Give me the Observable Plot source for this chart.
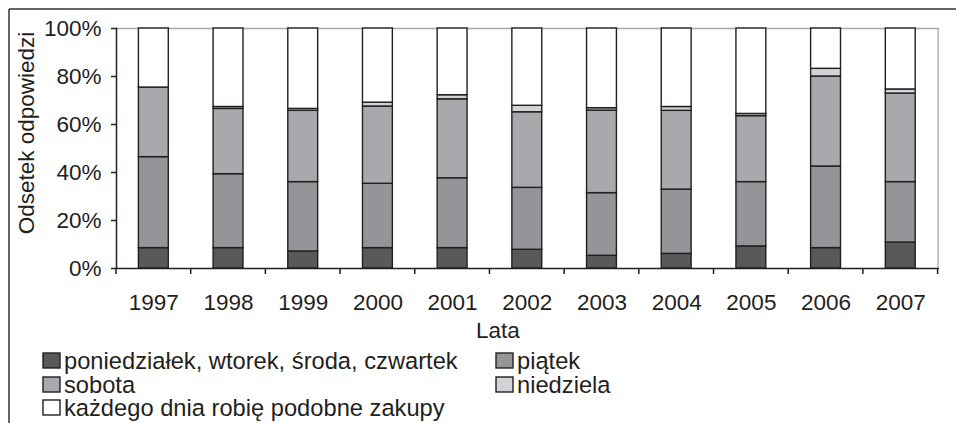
<!DOCTYPE html>
<html><head><meta charset="utf-8">
<script src="https://cdn.jsdelivr.net/npm/d3@7"></script>
<script src="https://cdn.jsdelivr.net/npm/@observablehq/plot@0.6"></script>
<style>body{margin:0;background:#fff} svg{display:block}</style>
</head><body><div id="chart"></div>
<script>
const years = ["1997","1998","1999","2000","2001","2002","2003","2004","2005","2006","2007"];
const categories = ["poniedziałek, wtorek, środa, czwartek","piątek","sobota","niedziela","każdego dnia robię podobne zakupy"];
const monThu   = [8.5, 8.5, 7.1, 8.5, 8.5, 7.8, 5.3, 6.1, 9.2, 8.5, 10.8];
const friday   = [37.9,30.8,28.9,26.8,29.1,25.8,26.1,26.8,26.8,34.0,25.2];
const saturday = [29.0,27.2,29.7,32.2,32.9,31.5,34.4,32.8,27.5,37.5,36.9];
const sunday   = [0.0, 0.8, 0.8, 1.6, 1.7, 2.7, 1.0, 1.6, 0.9, 3.2, 1.7];
const everyDay = [24.6,32.7,33.5,30.9,27.8,32.2,33.2,32.7,35.6,16.8,25.4];
const yTicks = [0,20,40,60,80,100];
const colors = ["#58595b","#939598","#a7a9ac","#d1d3d4","#ffffff"];
const xTitle = "Lata";
const yTitle = "Odsetek odpowiedzi";

const series = [monThu, friday, saturday, sunday, everyDay];
const data = [];
years.forEach((yr, i) => categories.forEach((c, k) => data.push({year: yr, category: c, value: series[k][i]})));

const ink = "#231f20";
const font = "'Liberation Sans', Arial, sans-serif";
const fs = 22.5;
const legFs = 23.7;

const plot = Plot.plot({
  width: 956, height: 423,
  marginLeft: 116, marginRight: 18.4, marginTop: 28, marginBottom: 155,
  style: {fontFamily: font, fontSize: fs + "px", color: ink, background: "#fff"},
  x: {domain: years, paddingInner: 0.6, paddingOuter: 0.3, round: false, label: null},
  y: {domain: [0, 100], label: null},
  color: {domain: categories, range: colors},
  marks: [
    Plot.frame({anchor: "top", stroke: "#a7a9ac", strokeWidth: 1.3}),
    Plot.frame({anchor: "right", stroke: "#a7a9ac", strokeWidth: 1.3}),
    Plot.barY(data, {x: "year", y: "value", fill: "category", stroke: ink, strokeWidth: 1.4}),
    Plot.frame({anchor: "left", stroke: ink, strokeWidth: 1.5}),
    Plot.frame({anchor: "bottom", stroke: ink, strokeWidth: 1.5}),
    Plot.axisY({ticks: yTicks, tickFormat: d => d + "%", tickSize: 5, tickPadding: 10, stroke: ink, strokeWidth: 1.5, label: null, fill: ink}),
    Plot.axisX({tickSize: 0, tickPadding: 26, label: null, fill: ink})
  ]
});
document.getElementById("chart").appendChild(plot);

const svg = d3.select(plot);
const xs = plot.scale("x");
const ys = plot.scale("y");
const [r0, r1] = xs.range;
const step = (r1 - r0) / years.length;
const y0 = ys.apply(0);
for (let i = 0; i <= years.length; i++) {
  const xx = r0 + i * step;
  svg.append("line").attr("x1", xx).attr("x2", xx).attr("y1", y0).attr("y2", y0 + 6)
    .attr("stroke", ink).attr("stroke-width", 1.5);
}
// axis titles
svg.append("text").attr("x", 498).attr("y", 338).attr("text-anchor", "middle")
  .attr("fill", ink).style("font-family", font).style("font-size", fs + "px").text(xTitle);
svg.append("text").attr("transform", "translate(34,133) rotate(-90)").attr("text-anchor", "middle")
  .attr("fill", ink).style("font-family", font).style("font-size", fs + "px").text(yTitle);
// outer frame
svg.append("line").attr("x1", 9).attr("x2", 956).attr("y1", 9).attr("y2", 9).attr("stroke", "#333").attr("stroke-width", 1.5);
svg.append("line").attr("x1", 9).attr("x2", 9).attr("y1", 9).attr("y2", 423).attr("stroke", "#333").attr("stroke-width", 1.5);
// legend
const legPos = [[43, 353], [496, 353], [43, 377], [496, 377], [43, 400]];
categories.forEach((c, k) => {
  const [lx, ly] = legPos[k];
  svg.append("rect").attr("x", lx).attr("y", ly).attr("width", 17).attr("height", 15)
    .attr("fill", colors[k]).attr("stroke", ink).attr("stroke-width", 1.4);
  svg.append("text").attr("x", lx + 21).attr("y", ly + 15.5).attr("fill", ink)
    .attr("text-anchor", "start")
    .style("font-family", font).style("font-size", legFs + "px").text(c);
});
</script></body></html>
